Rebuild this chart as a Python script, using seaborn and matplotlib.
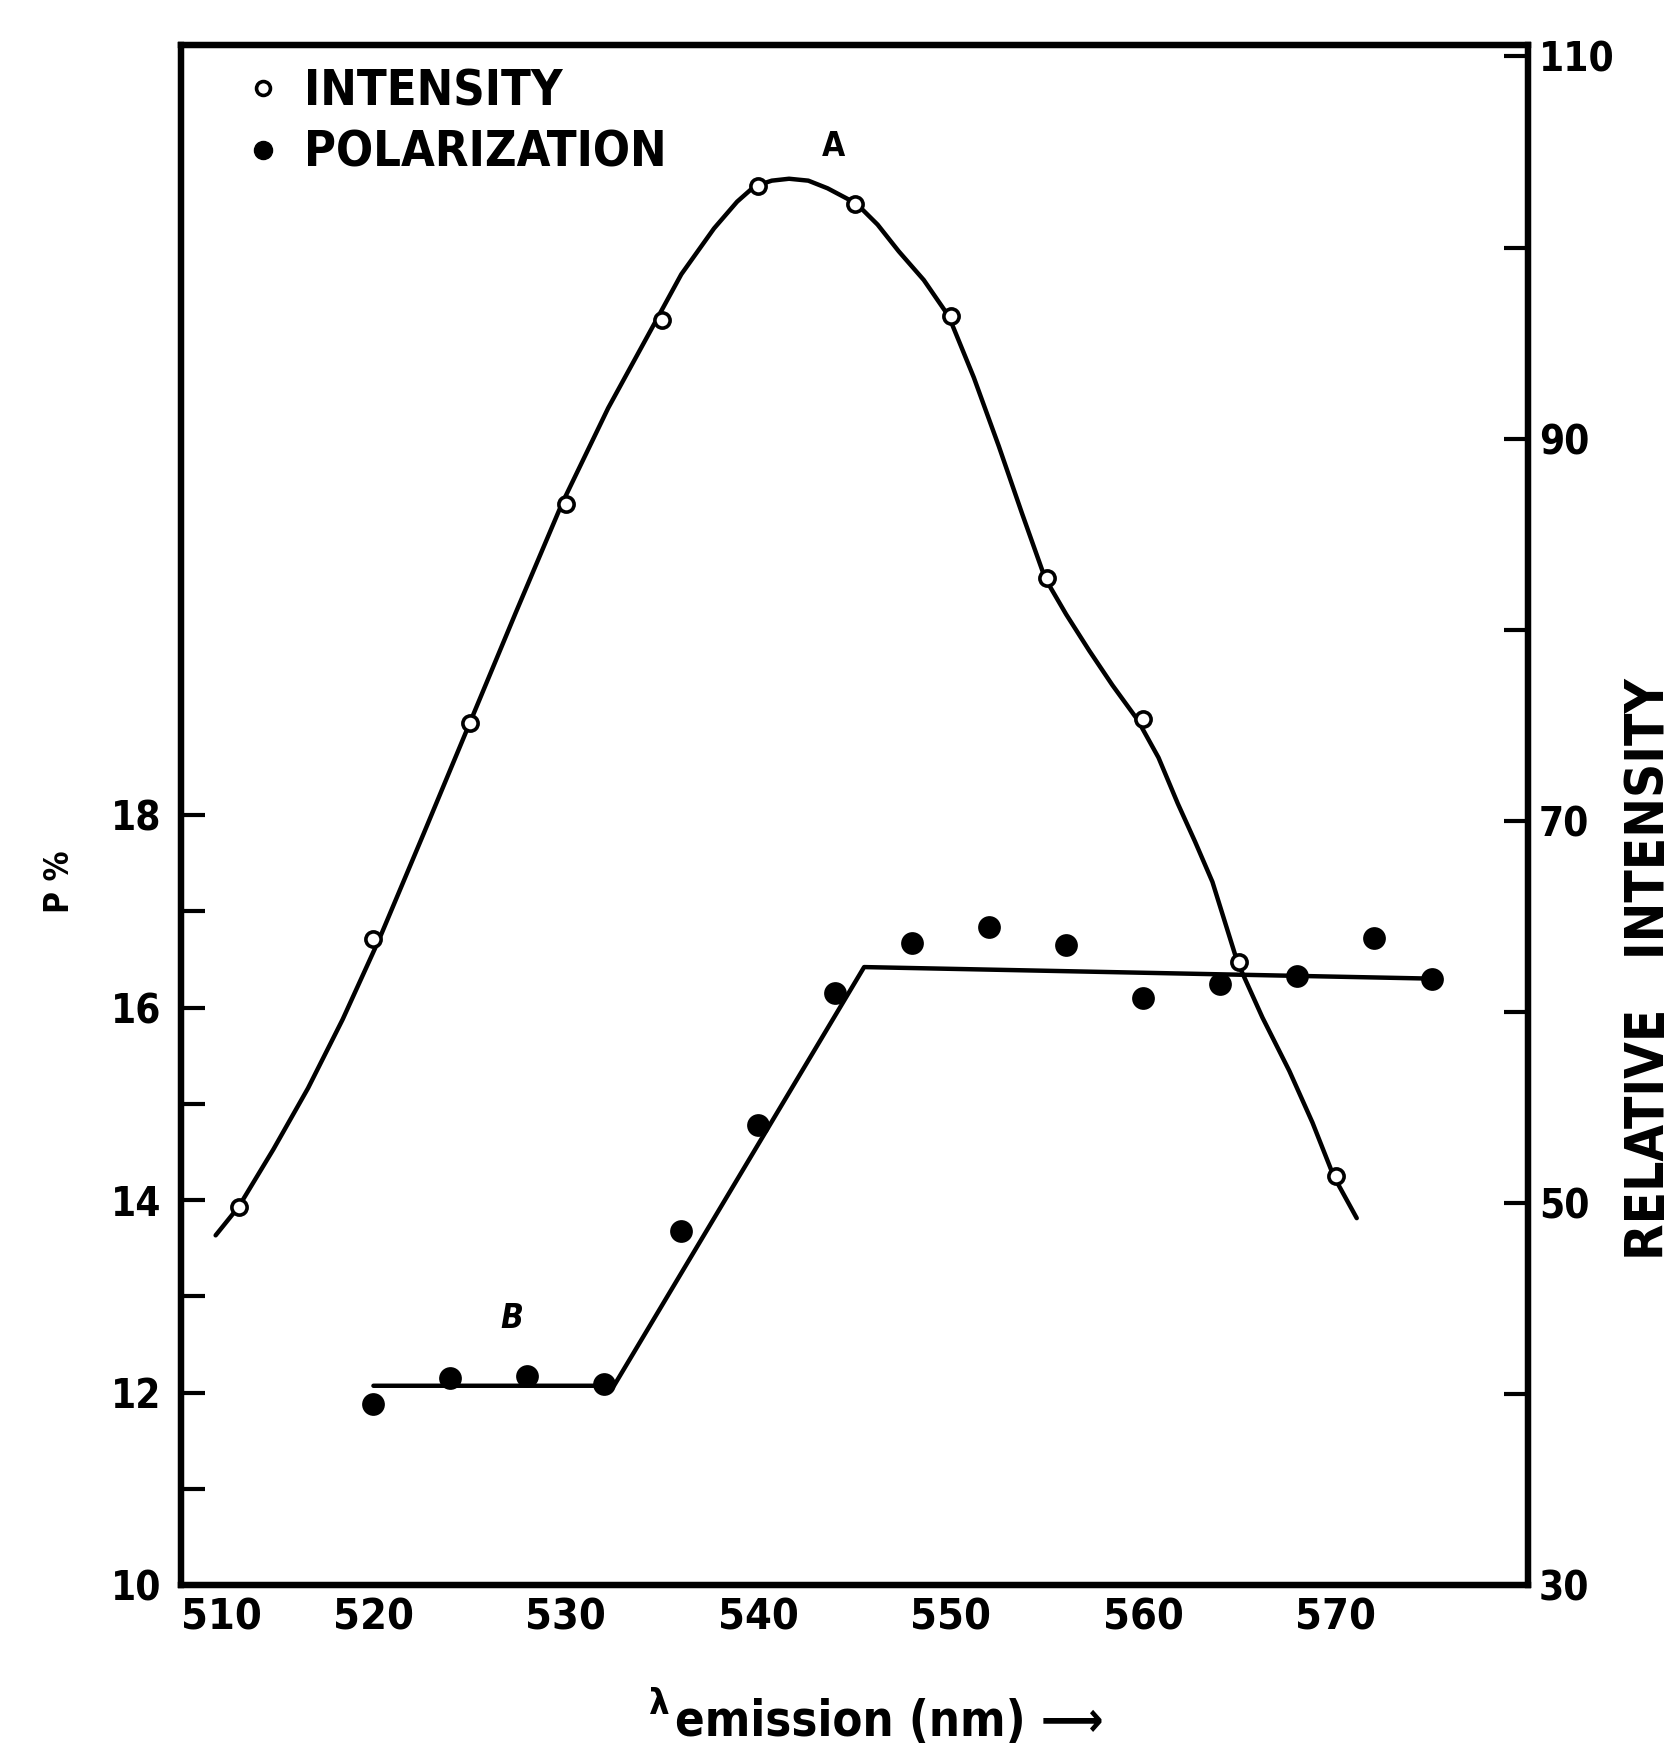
import numpy as np
import pandas as pd
import seaborn as sns
import matplotlib.pyplot as plt
from matplotlib.lines import Line2D

# intensity points (open circles, right axis)
int_wl = [513, 520, 525, 530, 535, 540, 545, 550, 555, 560, 565, 570]
int_val = [49.8, 63.8, 75.1, 86.6, 96.2, 103.2, 102.3, 96.4, 82.7, 75.3, 62.6, 51.4]

# hand drawn intensity curve
curve_wl = [511.8, 513.0, 514.8, 516.6, 518.4, 520.3, 522.6, 525.0, 527.4, 529.8,
            532.2, 534.7, 536.0, 537.7, 538.9, 539.8, 540.7, 541.6, 542.6, 543.6,
            545.1, 546.2, 547.3, 548.6, 549.9, 551.2, 552.5, 553.7, 554.9, 556.0,
            557.2, 558.4, 559.7, 560.8, 561.8, 562.7, 563.6, 564.9, 566.2, 567.6,
            568.8, 569.9, 571.1]
curve_val = [48.3, 49.8, 52.8, 56.0, 59.6, 63.8, 69.3, 75.1, 80.9, 86.6,
             91.6, 96.2, 98.6, 101.0, 102.4, 103.2, 103.5, 103.6, 103.5, 103.1,
             102.3, 101.2, 99.8, 98.3, 96.4, 93.2, 89.6, 86.1, 82.7, 80.8,
             78.9, 77.1, 75.3, 73.3, 70.9, 68.9, 66.8, 62.6, 59.7, 56.9,
             54.2, 51.4, 49.2]

# polarization points (filled circles, left axis)
pol_wl = [520, 524, 528, 532, 536, 540, 544, 548, 552, 556, 560, 564, 568, 572, 575]
pol_val = [11.88, 12.15, 12.17, 12.09, 13.68, 14.78, 16.15, 16.67, 16.84, 16.65,
           16.10, 16.24, 16.33, 16.72, 16.30]

# straight line segments through the polarization points
pol_line_wl = [520, 532.5, 545.5, 575]
pol_line_val = [12.07, 12.07, 16.42, 16.30]

sns.set_theme(style="white")
plt.rcParams['font.family'] = ['DejaVu Sans']
plt.rcParams['font.stretch'] = 'condensed'
plt.rcParams['font.weight'] = 'bold'
plt.rcParams['text.color'] = 'black'
plt.rcParams['axes.labelcolor'] = 'black'

fig = plt.figure(figsize=(16.75, 17.5), dpi=100)
ax = fig.add_axes([181/1675, 1 - 1585/1750, (1528 - 181)/1675, (1585 - 45)/1750])
ax2 = ax.twinx()

pol_df = pd.DataFrame({"wl": pol_wl, "p": pol_val})
sns.lineplot(x=pol_line_wl, y=pol_line_val, ax=ax, color="black", lw=3.2,
             estimator=None, sort=False)
sns.scatterplot(data=pol_df, x="wl", y="p", ax=ax, color="black", s=230,
                edgecolor="black", zorder=3)

sns.lineplot(x=curve_wl, y=curve_val, ax=ax2, color="black", lw=3.2,
             estimator=None, sort=False)
sns.scatterplot(x=int_wl, y=int_val, ax=ax2, facecolor="white", edgecolor="black",
                linewidth=2.6, s=120, zorder=3)

ax.set_xlim(510, 580)
ax.set_ylim(10, 26)
ax2.set_ylim(30, 110.6)

ax.set_xticks(np.arange(510, 571, 10))
ax.set_yticks([10, 12, 14, 16, 18])
ax.set_yticks([11, 13, 15, 17], minor=True)
ax2.set_yticks(np.arange(30, 111, 10))
ax2.set_yticklabels(["30", "", "50", "", "70", "", "90", "", "110"])

ax.tick_params(axis="both", which="both", direction="in", length=17, width=3,
               labelsize=29, colors="black")
ax.tick_params(axis="x", pad=8, labelsize=31)
ax.tick_params(axis="y", which="both", pad=14, left=True, right=False)
ax2.tick_params(axis="y", direction="in", length=17, width=3, labelsize=29,
                pad=8, colors="black")

# first x label sits just right of the corner, as in the original
ax.get_xticklabels()[0].set_horizontalalignment("left")

for a in (ax, ax2):
    for sp in a.spines.values():
        sp.set_linewidth(4.5)
        sp.set_color("black")

ax.set_xlabel("")
ax.set_ylabel("")
ax2.set_ylabel("")

ax.text(-0.09, 0.457, "P %", transform=ax.transAxes, rotation=90,
        ha="center", va="center", fontsize=24)
ax2.text(1.09, 0.40, "RELATIVE   INTENSITY", transform=ax.transAxes, rotation=90,
         ha="center", va="center", fontsize=38)
ax.text(0.355, -0.077, "λ", transform=ax.transAxes, ha="center", va="center",
        fontsize=26)
ax.text(0.367, -0.089, "emission (nm) ⟶", transform=ax.transAxes, ha="left",
        va="center", fontsize=35)

ax2.text(543.9, 105.3, "A", ha="center", va="center", fontsize=24)
ax.text(527.2, 12.77, "B", ha="center", va="center", fontsize=24, style="italic")

handles = [
    Line2D([], [], ls="", marker="o", mfc="white", mec="black", mew=2.6, ms=10),
    Line2D([], [], ls="", marker="o", mfc="black", mec="black", ms=13),
]
ax2.legend(handles, ["INTENSITY", "POLARIZATION"], loc="upper left",
           bbox_to_anchor=(0.012, 1.014), frameon=False, fontsize=35,
           handletextpad=0.4, labelspacing=0.28, handlelength=0.9,
           labelcolor="black")

fig.savefig("out.png", dpi=100)
